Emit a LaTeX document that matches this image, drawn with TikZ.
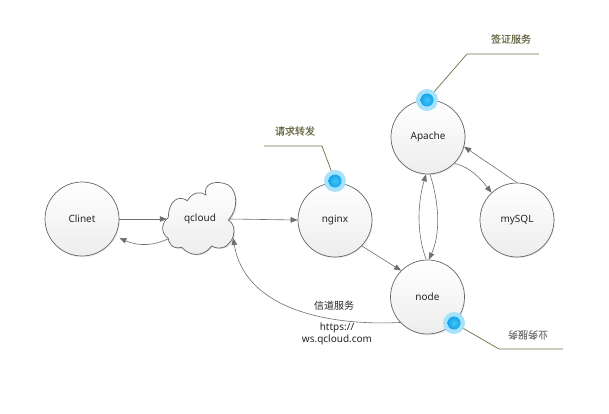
\documentclass[tikz,border=0pt]{standalone}
\usepackage{fontspec}
\setmainfont{Noto Sans}
\newfontfamily\cjk{Noto Sans CJK SC}
\newfontfamily\cjkb[FakeBold=0.35]{Noto Sans CJK SC}
\usetikzlibrary{arrows.meta,calc,shadows}
\definecolor{edgegray}{HTML}{6E6E6E}
\definecolor{olive}{HTML}{6F6F45}
\definecolor{labelolive}{HTML}{6A6A48}
\definecolor{halo}{HTML}{A6E3FB}
\definecolor{coreIn}{HTML}{45C4F6}
\definecolor{coreOut}{HTML}{14A4EA}
\tikzset{
  x=1pt,y=-1pt,
  every node/.style={font=\fontsize{10}{12}\selectfont,text=black!85},
  round/.style={circle,draw=black!60,line width=.7pt,minimum size=74pt,inner sep=0pt,
    top color=white,bottom color=black!7,
    drop shadow={shadow xshift=.8pt,shadow yshift=-1.2pt,opacity=.16}},
  link/.style={draw=edgegray,line width=.6pt,-{Stealth[length=7pt,width=5.5pt,inset=0pt]}},
  leader/.style={draw=olive,line width=.7pt},
  haloDot/.style={circle,fill=halo,minimum size=22pt,inner sep=0pt},
  coreDot/.style={circle,inner sep=0pt,minimum size=13pt,
    inner color=coreIn,outer color=coreOut},
  note/.style={font=\cjkb\fontsize{10}{12}\selectfont,text=labelolive},
  plain/.style={font=\cjk\fontsize{10}{12}\selectfont},
}
\begin{document}
\begin{tikzpicture}
\useasboundingbox (0,0) rectangle (609,414);
\fill[white] (0,0) rectangle (609,414);

% leader end points
\coordinate (a1) at (467,54);
\coordinate (a2) at (539,54);
\coordinate (n1) at (322,146);
\coordinate (n2) at (264,146);
\coordinate (o1) at (499,349);
\coordinate (o2) at (563,349);

% circles
\node[round] (clinet) at (82,219) {Clinet};
\node[round] (nginx) at (335,220) {nginx};
\node[round] (apache) at (428,137) {Apache};
\node[round] (mysql) at (517,220) {mySQL};
\node[round] (nodejs) at (427.5,297) {node};

% cloud
\begin{scope}[shift={(100,170)},x=.3333pt,y=-.3333pt]
\path[fill=black,opacity=.14] (208,146)
 .. controls (208,100) and (235,75) .. (265,95)
 .. controls (280,70) and (305,65) .. (321,78)
 .. controls (310,45) and (350,30) .. (388,48)
 .. controls (415,65) and (420,120) .. (388,153)
 .. controls (413,168) and (408,208) .. (388,225)
 .. controls (373,243) and (348,238) .. (338,231)
 .. controls (313,265) and (273,263) .. (248,235)
 .. controls (218,243) and (208,218) .. (208,208)
 .. controls (183,193) and (188,158) .. (208,146) -- cycle;
\path[draw=black!60,line width=.7pt,top color=white,bottom color=black!7] (205,143)
 .. controls (205,97) and (232,72) .. (262,92)
 .. controls (277,67) and (302,62) .. (318,75)
 .. controls (307,42) and (347,27) .. (385,45)
 .. controls (412,62) and (417,117) .. (385,150)
 .. controls (410,165) and (405,205) .. (385,222)
 .. controls (370,240) and (345,235) .. (335,228)
 .. controls (310,262) and (270,260) .. (245,232)
 .. controls (215,240) and (205,215) .. (205,205)
 .. controls (180,190) and (185,155) .. (205,143) -- cycle;
\end{scope}
\node[minimum width=70pt,minimum height=72pt,inner sep=0pt] (qcloud) at (200,219) {qcloud};

% connectors
\draw[link] (clinet.east) -- ($(qcloud.west)+(2,0)$);
\draw[link] ($(qcloud.west)+(3,20)$) .. controls (155,245) and (140,247) .. ($(clinet.east)+(0,19)$);
\draw[link] ($(qcloud.east)+(-6,0)$) -- (nginx.west);
\draw[link] (nginx.-44) -- (nodejs.135);
\draw[link] (nodejs.92) .. controls (417,235) and (417,205) .. (apache.-93);
\draw[link] (apache.-87) .. controls (440,205) and (440,235) .. (nodejs.88);
\draw[link] (mysql.90) -- (apache.-15);
\draw[link] (apache.-45) .. controls (470,167) and (480,178) .. (mysql.133);
\draw[link] (nodejs.-137) .. controls (330,326) and (245,310) .. ($(qcloud.east)+(-2,19)$);

% dots and leaders
\draw[leader] (427,100) -- (a1) -- (a2);
\draw[leader] (335,181) -- (n1) -- (n2);
\draw[leader] (454,323) -- (o1) -- (o2);
\node[haloDot] (d1) at (427,100) {};
\node[coreDot] at (d1.center) {};
\node[haloDot] (d2) at (335,181) {};
\node[coreDot] at (d2.center) {};
\node[haloDot] (d3) at (454,323) {};
\node[coreDot] at (d3.center) {};

% labels
\node[note] (l1) at (511,39) {签证服务};
\node[note] (l2) at (295,131) {请求转发};
\node[note,rotate=180,text=black!55] (l3) at (528,335) {业务服务};
\node[plain] (l4) at (334,306) {信道服务};
\node[align=center,inner sep=0pt] (l5) at (337,334) {https://\\ws.qcloud.com};
\end{tikzpicture}
\end{document}
